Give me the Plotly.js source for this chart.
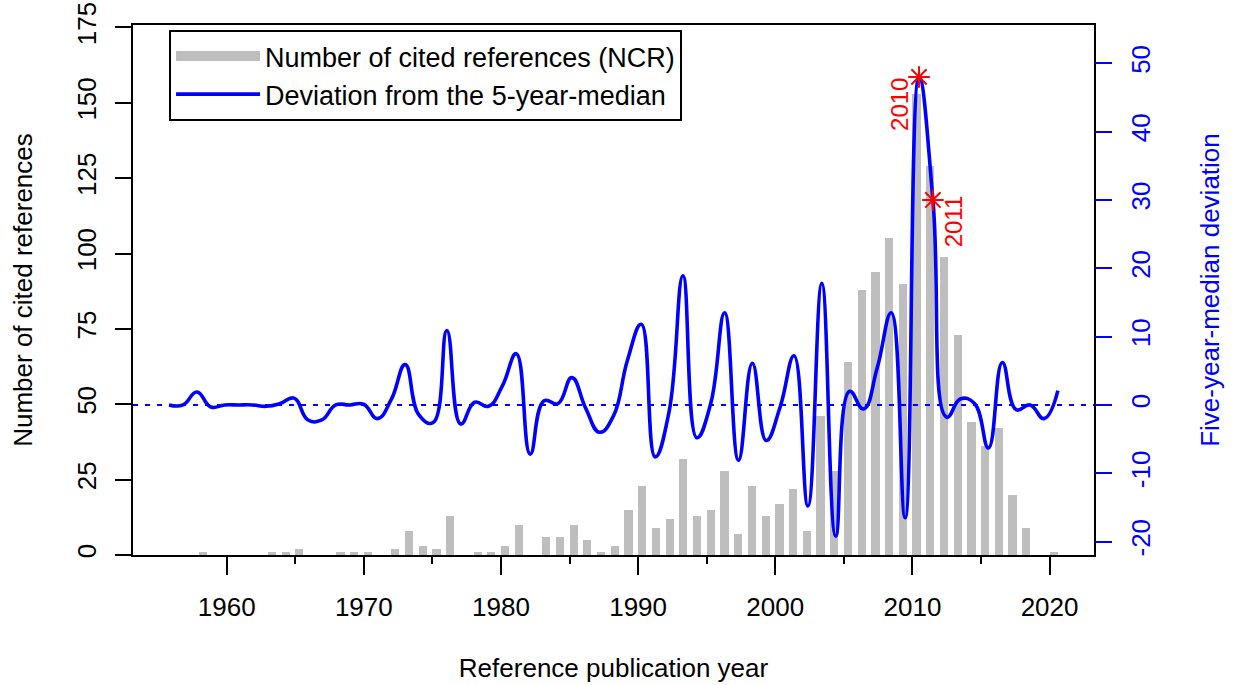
<!DOCTYPE html>
<html><head><meta charset="utf-8">
<script src="https://cdn.plot.ly/plotly-3.0.1.min.js"></script>
<style>html,body{margin:0;padding:0;background:#fff;} #chart{width:1236px;height:685px;}</style>
</head><body><div id="chart"></div>
<script>
// Reference publication years
const years = [1956,1957,1958,1959,1960,1961,1962,1963,1964,1965,1966,1967,1968,1969,1970,
  1971,1972,1973,1974,1975,1976,1977,1978,1979,1980,1981,1982,1983,1984,1985,1986,1987,1988,1989,1990,
  1991,1992,1993,1994,1995,1996,1997,1998,1999,2000,2001,2002,2003,2004,2005,2006,2007,2008,2009,2010,
  2011,2012,2013,2014,2015,2016,2017,2018,2019,2020];
// Number of cited references (NCR) per year
const ncr = [0,0,1,0,0,0,0,1,1,2,0,0,1,1,1,
  0,2,8,3,2,13,0,1,1,3,10,0,6,6,10,5,1,3,15,23,
  9,12,32,13,15,28,7,23,13,17,22,8,46,28,64,88,94,105,90,153,
  129,99,73,44,36,42,20,9,0,1];
// Deviation from the 5-year median
const deviation = [0,0,1.9,-0.3,0,0,0,-0.2,0.2,1.0,-2.2,-2.2,0,0,0.1,
  -2.0,0.8,5.9,-1.5,-2.6,10.9,-2.8,0.4,-0.2,2.8,7.5,-7.2,0.6,0.2,4.0,-0.5,-4.0,-1.6,6.5,11.8,
  -7.6,-1.0,18.9,-4.8,0.2,13.5,-8.1,6.1,-5.2,-0.3,7.2,-14.8,17.8,-19.2,2.0,-0.6,5.5,13.5,-16.5,48,
  30,-1.8,0.9,0.2,-6.3,6.2,-0.7,0,-2.0,2.1];
const highlightYears = [2010, 2011];
const xTickVals = [1960,1970,1980,1990,2000,2010,2020];
const xMinorTickVals = [1965,1975,1985,1995,2005,2015];
const leftTickVals = [0,25,50,75,100,125,150,175];
const rightTickVals = [-20,-10,0,10,20,30,40,50];

const FONT = '"Liberation Sans", Arial, Helvetica, sans-serif';
const GREY = '#BEBEBE';
const BLUE = '#0000FF';
const RED = '#FF0000';

const highlightDev = highlightYears.map(y => deviation[years.indexOf(y)]);

const traces = [
  {
    type: 'bar', x: years.map(y => y + 0.3), y: ncr, width: 0.6,
    marker: {color: GREY, line: {width: 0}}, showlegend: false, hoverinfo: 'x+y',
    xaxis: 'x', yaxis: 'y'
  },
  {
    type: 'scatter', mode: 'lines', x: [null], y: [null],
    name: 'Number of cited references (NCR)',
    line: {color: GREY, width: 10}, xaxis: 'x', yaxis: 'y', hoverinfo: 'skip'
  },
  {
    type: 'scatter', mode: 'lines', x: years, y: deviation,
    name: 'Deviation from the 5-year-median',
    line: {color: BLUE, width: 3.6, shape: 'spline', smoothing: 1.3},
    xaxis: 'x2', yaxis: 'y2'
  },
  {
    type: 'scatter', mode: 'markers', x: highlightYears, y: highlightDev,
    marker: {symbol: 'asterisk-open', size: 18, color: RED, line: {color: RED, width: 2}},
    showlegend: false, xaxis: 'x2', yaxis: 'y2'
  }
];

const annotations = [
  {x: highlightYears[0], y: highlightDev[0], xref: 'x2', yref: 'y2', text: String(highlightYears[0]),
   textangle: -90, showarrow: false, xanchor: 'right', yanchor: 'top', xshift: -4, yshift: 1,
   font: {family: FONT, size: 24, color: RED}},
  {x: highlightYears[1], y: highlightDev[1], xref: 'x2', yref: 'y2', text: String(highlightYears[1]),
   textangle: -90, showarrow: false, xanchor: 'left', yanchor: 'top', xshift: 6, yshift: 7,
   font: {family: FONT, size: 24, color: RED}}
];

const layout = {
  width: 1236, height: 685,
  margin: {l: 133, r: 142, t: 25, b: 130, pad: 0},
  paper_bgcolor: '#FFFFFF', plot_bgcolor: '#FFFFFF',
  font: {family: FONT, size: 26, color: '#000000'},
  showlegend: true,
  legend: {
    x: 0.0375, y: 0.9906, xanchor: 'left', yanchor: 'top',
    bgcolor: '#FFFFFF', bordercolor: '#000000', borderwidth: 2,
    font: {family: FONT, size: 27, color: '#000000'}, itemwidth: 84
  },
  bargap: 0,
  xaxis: {
    range: [1953.17, 2023.24], tickmode: 'array', tickvals: xTickVals, ticktext: xTickVals.map(String),
    ticks: 'outside', ticklen: 18, tickwidth: 2, tickcolor: '#000000',
    showline: true, linewidth: 2, linecolor: '#000000', mirror: true,
    showgrid: false, zeroline: false, ticklabelstandoff: 10,
    tickfont: {family: FONT, size: 26, color: '#000000'},
    minor: {tickmode: 'array', tickvals: xMinorTickVals, ticks: 'outside', ticklen: 7, tickwidth: 2, tickcolor: '#000000', showgrid: false},
    title: {text: 'Reference publication year', font: {family: FONT, size: 26, color: '#000000'}, standoff: 38}
  },
  xaxis2: {range: [1953.4, 2022.6], overlaying: 'x', visible: false, showgrid: false, zeroline: false},
  yaxis: {
    range: [0, 175.8], tickmode: 'array', tickvals: leftTickVals, ticktext: leftTickVals.map(String),
    ticks: 'outside', ticklen: 16, tickwidth: 2, tickcolor: '#000000', tickangle: -90,
    showline: true, linewidth: 2, linecolor: '#000000', mirror: true,
    showgrid: false, zeroline: false, ticklabelstandoff: 9,
    tickfont: {family: FONT, size: 26, color: '#000000'},
    title: {text: 'Number of cited references', font: {family: FONT, size: 26, color: '#000000'}, standoff: 31}
  },
  yaxis2: {
    range: [-21.96, 55.6], overlaying: 'y', side: 'right',
    tickmode: 'array', tickvals: rightTickVals, ticktext: rightTickVals.map(String),
    ticks: 'outside', ticklen: 17, tickwidth: 2, tickcolor: BLUE, tickangle: -90,
    showline: false, showgrid: false, zeroline: false, ticklabelstandoff: 7,
    tickfont: {family: FONT, size: 26, color: BLUE},
    title: {text: 'Five-year-median deviation', font: {family: FONT, size: 26, color: BLUE}, standoff: 45}
  },
  shapes: [
    {type: 'line', xref: 'paper', x0: 0, x1: 1, yref: 'y2', y0: 0, y1: 0,
     line: {color: BLUE, width: 2, dash: '5px,7px'}, layer: 'above'}
  ],
  annotations: annotations
};

Plotly.newPlot('chart', traces, layout, {displayModeBar: false, staticPlot: true});
</script>
</body></html>
